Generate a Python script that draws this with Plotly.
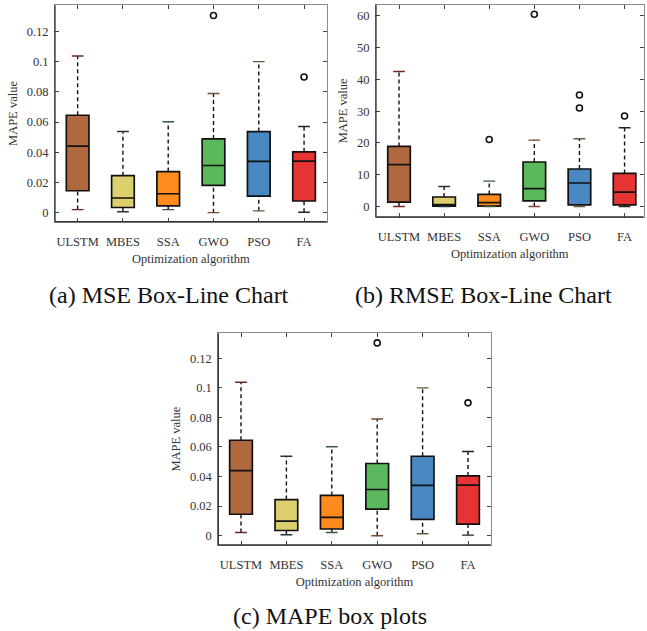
import plotly.graph_objects as go

# ---------------- data ----------------
categories = ["ULSTM", "MBES", "SSA", "GWO", "PSO", "FA"]

# (a) MSE
mse_lower = [0.0020, 0.0006, 0.0020, 0.0000, 0.0012, 0.0003]
mse_q1 = [0.0145, 0.0034, 0.0045, 0.0180, 0.0110, 0.0077]
mse_median = [0.0441, 0.0097, 0.0125, 0.0312, 0.0340, 0.0341]
mse_q3 = [0.0645, 0.0245, 0.0272, 0.0488, 0.0537, 0.0403]
mse_upper = [0.1037, 0.0537, 0.0602, 0.0789, 0.1000, 0.0570]
mse_outliers = [[], [], [], [0.1305], [], [0.0898]]

# (b) RMSE
rmse_lower = [0.0, 0.0, 0.0, 0.0, 0.0, 0.0]
rmse_q1 = [1.4, 0.1, 0.1, 1.8, 0.5, 0.5]
rmse_median = [13.2, 0.6, 1.2, 5.6, 7.4, 4.5]
rmse_q3 = [18.9, 3.0, 3.8, 14.0, 11.8, 10.4]
rmse_upper = [42.5, 6.3, 8.0, 20.9, 21.3, 24.8]
rmse_outliers = [[], [], [21.1], [60.5], [35.1, 31.0], [28.5]]

# (c) MAPE
mape_lower = [0.0021, 0.0006, 0.0021, 0.0000, 0.0013, 0.0004]
mape_q1 = [0.0145, 0.0035, 0.0045, 0.0179, 0.0110, 0.0078]
mape_median = [0.0440, 0.0098, 0.0124, 0.0312, 0.0340, 0.0342]
mape_q3 = [0.0645, 0.0244, 0.0272, 0.0488, 0.0537, 0.0404]
mape_upper = [0.1037, 0.0537, 0.0601, 0.0789, 0.0999, 0.0569]
mape_outliers = [[], [], [], [0.1303], [], [0.0898]]

# ---------------- style ----------------
fill_colors = ["#b0693f", "#dccf6d", "#ff8b1e", "#5cb85c", "#4a88c2", "#e63434"]
cap_colors = ["#6b2626", "#26323f", "#3e5a3e", "#7a4a2a", "#6a5a3a", "#222222"]
FONT = "Liberation Serif"
W, H = 647, 631


def dom_x(l, r):
    return [l / W, r / W]


def dom_y(t, b):
    return [1 - b / H, 1 - t / H]


panels = [
    dict(ax="", lower=mse_lower, q1=mse_q1, med=mse_median, q3=mse_q3, upper=mse_upper,
         out=mse_outliers, xd=dom_x(55, 326.7), yd=dom_y(5.3, 221.7),
         xr=[0.5, 6.5], yr=[-0.006, 0.1373], dt=0.02),
    dict(ax="2", lower=rmse_lower, q1=rmse_q1, med=rmse_median, q3=rmse_q3, upper=rmse_upper,
         out=rmse_outliers, xd=dom_x(376, 643.5), yd=dom_y(4.7, 217),
         xr=[0.49, 6.42], yr=[-3.3, 63.5], dt=10),
    dict(ax="3", lower=mape_lower, q1=mape_q1, med=mape_median, q3=mape_q3, upper=mape_upper,
         out=mape_outliers, xd=dom_x(218.3, 490.7), yd=dom_y(333.3, 545),
         xr=[0.5, 6.5], yr=[-0.0063, 0.1368], dt=0.02),
]

fig = go.Figure()
layout = dict(
    width=W, height=H, margin=dict(l=0, r=0, t=0, b=0),
    paper_bgcolor="white", plot_bgcolor="white", showlegend=False,
    font=dict(family=FONT, color="#333333", size=12),
)

shapes = []
for p in panels:
    xa, ya = "x" + p["ax"], "y" + p["ax"]
    xpos = list(range(1, len(categories) + 1))
    # whiskers (dashed)
    wx, wy = [], []
    for i, x in enumerate(xpos):
        wx += [x, x, None, x, x, None]
        wy += [p["q3"][i], p["upper"][i], None, p["lower"][i], p["q1"][i], None]
    fig.add_trace(go.Scatter(x=wx, y=wy, mode="lines", xaxis=xa, yaxis=ya,
                             line=dict(color="#111111", width=1.4, dash="4px,3px"),
                             hoverinfo="skip"))
    # caps
    for i, x in enumerate(xpos):
        fig.add_trace(go.Scatter(
            x=[x - 0.13, x + 0.13, None, x - 0.13, x + 0.13],
            y=[p["upper"][i], p["upper"][i], None, p["lower"][i], p["lower"][i]],
            mode="lines", xaxis=xa, yaxis=ya,
            line=dict(color=cap_colors[i], width=1.4), hoverinfo="skip"))
    # boxes
    for i, x in enumerate(xpos):
        fig.add_trace(go.Box(
            x=[x], q1=[p["q1"][i]], median=[p["med"][i]], q3=[p["q3"][i]],
            lowerfence=[p["q1"][i]], upperfence=[p["q3"][i]],
            width=0.5, fillcolor=fill_colors[i],
            line=dict(color="#111111", width=1.7), boxpoints=False,
            xaxis=xa, yaxis=ya, hoverinfo="skip"))
    # outliers
    ox, oy = [], []
    for i, x in enumerate(xpos):
        for v in p["out"][i]:
            ox.append(x)
            oy.append(v)
    fig.add_trace(go.Scatter(x=ox, y=oy, mode="markers", xaxis=xa, yaxis=ya,
                             marker=dict(symbol="circle-open", size=6, color="#111111",
                                         line=dict(width=1.6)),
                             hoverinfo="skip"))

    layout["xaxis" + p["ax"]] = dict(
        domain=p["xd"], range=p["xr"], anchor=ya, tickmode="array",
        tickvals=xpos, ticktext=categories, ticks="inside", ticklen=4,
        tickcolor="#444444", showline=True, linecolor="#8a8a8a", linewidth=1,
        mirror="ticks", showgrid=False, zeroline=False, ticklabelstandoff=8,
        tickfont=dict(family=FONT, size=12.5, color="#333333"),
        title=dict(text="Optimization algorithm", standoff=6,
                   font=dict(family=FONT, size=12.5, color="#333333")),
    )
    layout["yaxis" + p["ax"]] = dict(
        domain=p["yd"], range=p["yr"], anchor=xa, dtick=p["dt"], tick0=0,
        ticks="inside", ticklen=4, tickcolor="#444444", showline=True,
        linecolor="#8a8a8a", linewidth=1, mirror="ticks", showgrid=False,
        zeroline=False, ticklabelstandoff=3,
        tickfont=dict(family=FONT, size=12.5, color="#333333"),
        title=dict(text="MAPE value", standoff=6,
                   font=dict(family=FONT, size=12.5, color="#333333")),
    )
    # darker left / bottom spines
    shapes.append(dict(type="line", xref=xa + " domain", yref=ya + " domain",
                       x0=0, x1=0, y0=0, y1=1, line=dict(color="#333333", width=1.3)))
    shapes.append(dict(type="line", xref=xa + " domain", yref=ya + " domain",
                       x0=0, x1=1, y0=0, y1=0, line=dict(color="#333333", width=1.3)))

layout["shapes"] = shapes
layout["annotations"] = [
    dict(text="(a) MSE Box-Line Chart", x=169 / W, y=1 - 295 / H, xref="paper", yref="paper",
         showarrow=False, xanchor="center", yanchor="middle",
         font=dict(family=FONT, size=24, color="#111111")),
    dict(text="(b) RMSE Box-Line Chart", x=483 / W, y=1 - 295 / H, xref="paper", yref="paper",
         showarrow=False, xanchor="center", yanchor="middle",
         font=dict(family=FONT, size=24, color="#111111")),
    dict(text="(c) MAPE box plots", x=330 / W, y=1 - 616 / H, xref="paper", yref="paper",
         showarrow=False, xanchor="center", yanchor="middle",
         font=dict(family=FONT, size=24, color="#111111")),
]
fig.update_layout(**layout)
fig.write_html("out.html")
